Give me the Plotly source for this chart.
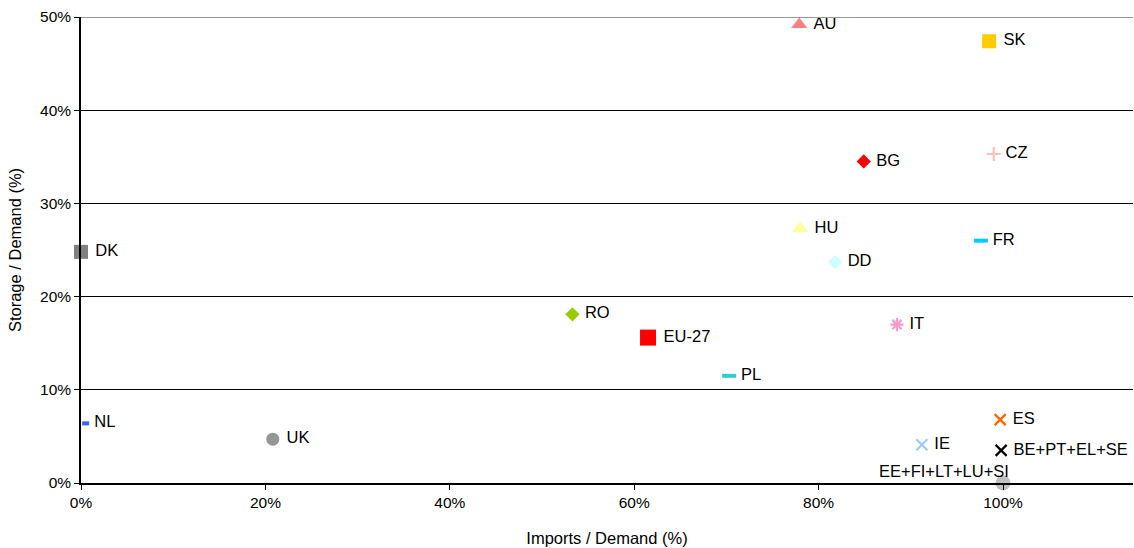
import plotly.graph_objects as go

labels = ["AU", "SK", "BG", "CZ", "HU", "FR", "DD", "IT", "RO", "EU-27", "PL",
          "NL", "UK", "DK", "ES", "IE", "BE+PT+EL+SE", "EE+FI+LT+LU+SI"]
imports = [0.779, 0.985, 0.849, 0.990, 0.780, 0.976, 0.818, 0.885, 0.533, 0.615, 0.703,
           0.005, 0.208, 0.0, 0.997, 0.912, 0.998, 1.0]
storage = [0.492, 0.474, 0.345, 0.353, 0.273, 0.260, 0.237, 0.170, 0.181, 0.156, 0.115,
           0.064, 0.047, 0.248, 0.068, 0.041, 0.035, 0.0]

symbols = ["triangle-up", "square", "diamond", "cross-thin", "triangle-up", "line-ew",
           "diamond", "asterisk", "diamond", "square", "line-ew", "line-ew", "circle",
           "square", "x-thin", "x-thin", "x-thin", "circle"]
colors = ["#FF8080", "#FFCC00", "#FF0000", "#FFBFBF", "#FFFF99", "#00CCFF", "#CCFFFF",
          "#FF99CC", "#99CC00", "#FF0000", "#33CCCC", "#3366FF", "#969696", "#808080",
          "#FF6600", "#99CCFF", "#000000", "#C0C0C0"]
sizes = [14, 14, 11, 10, 14, 10, 11, 11, 11, 16, 10, 5, 13, 14, 11, 11, 11, 15]

x_ticks = [0, 0.2, 0.4, 0.6, 0.8, 1.0]
x_tick_text = ["0%", "20%", "40%", "60%", "80%", "100%"]
y_ticks = [0, 0.1, 0.2, 0.3, 0.4, 0.5]
y_tick_text = ["0%", "10%", "20%", "30%", "40%", "50%"]

FONT = "Liberation Sans, Arial, sans-serif"

fig = go.Figure()
for i, lab in enumerate(labels):
    sym = symbols[i]
    is_line = sym in ("line-ew", "cross-thin", "x-thin", "asterisk")
    lw = 4 if sym == "line-ew" else (2.2 if is_line else 0)
    text = lab if i < len(labels) - 1 else ""
    fig.add_trace(go.Scatter(
        x=[imports[i]], y=[storage[i]], mode="markers+text",
        text=["\u00a0" + text] if text else [""], textposition="middle right",
        textfont=dict(family=FONT, size=16.5, color="#000000"),
        marker=dict(symbol=sym, size=sizes[i], color=colors[i],
                    line=dict(color=colors[i], width=lw)),
        cliponaxis=False, showlegend=False, hoverinfo="skip"))

fig.add_annotation(x=imports[-1], y=storage[-1], text=labels[-1], showarrow=False,
                   xanchor="right", yanchor="bottom", xshift=8, yshift=1,
                   font=dict(family=FONT, size=16.5, color="#000000"))

fig.add_shape(type="line", xref="paper", yref="y", x0=0, x1=1, y0=0.5, y1=0.5,
              line=dict(color="#999999", width=2))

fig.update_layout(
    width=1134, height=548,
    margin=dict(l=81, r=1, t=17, b=65),
    paper_bgcolor="white", plot_bgcolor="white",
    font=dict(family=FONT, size=16, color="#000000"),
    xaxis=dict(range=[0, 1.141], tickvals=x_ticks, ticktext=x_tick_text,
               showgrid=False, zeroline=False, showline=True, linecolor="#000000",
               linewidth=1.5, ticks="outside", ticklen=5, tickcolor="#000000",
               title=dict(text="Imports / Demand (%)", font=dict(size=16.5), standoff=22),
               tickfont=dict(size=15.5)),
    yaxis=dict(range=[0, 0.5], tickvals=y_ticks, ticktext=y_tick_text,
               showgrid=True, gridcolor="#000000", gridwidth=1, zeroline=False,
               showline=True, linecolor="#000000", linewidth=1.5,
               ticks="outside", ticklen=5, tickcolor="#000000",
               title=dict(text="Storage / Demand (%)", font=dict(size=16.5), standoff=14),
               tickfont=dict(size=15.5)),
)

fig.write_html("out.html", post_script="document.body.style.margin='0';",
               config={"displayModeBar": False})
